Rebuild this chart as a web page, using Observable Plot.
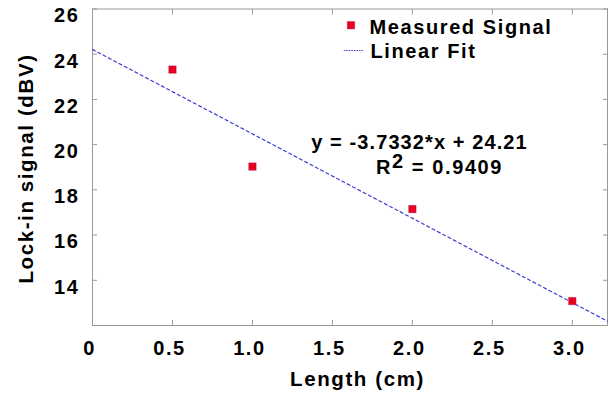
<!DOCTYPE html>
<html>
<head>
<meta charset="utf-8">
<script src="https://cdn.jsdelivr.net/npm/d3@7"></script>
<script src="https://cdn.jsdelivr.net/npm/@observablehq/plot@0.6"></script>
<style>
  html, body { margin: 0; padding: 0; background: #fff; }
  #chart svg text { letter-spacing: 1.6px; }
</style>
</head>
<body>
<div id="chart"></div>
<script>
// Data
const lengthCm = [0.5, 1.0, 2.0, 3.0];
const signalDbv = [23.32, 19.03, 17.15, 13.08];
// Linear fit endpoints (y = -3.7332*x + 24.21) across the axis range
const fitX = [0, 3.22];
const fitY = [24.21, 12.19];
const xTicks = [0, 0.5, 1.0, 1.5, 2.0, 2.5, 3.0];
const yTicks = [14, 16, 18, 20, 22, 24, 26];
const seriesNames = ["Measured Signal", "Linear Fit"];
const fitEquation = "y = -3.7332*x + 24.21";
const fitR2 = "0.9409";

const points = lengthCm.map((x, i) => ({x, y: signalDbv[i]}));
const fit = fitX.map((x, i) => ({x, y: fitY[i]}));

const RED = "#e8001e";
const BLUE = "#3a3ad8";
const FRAME = "#999";
const font = {fontSize: 20, fontWeight: "bold"};
const titleFont = {fontSize: 20.5, fontWeight: "bold"};

const lineSymbol = {
  draw(ctx) { ctx.moveTo(-10, 0); ctx.lineTo(10, 0); }
};

const chart = Plot.plot({
  width: 608,
  height: 393,
  marginLeft: 92,
  marginRight: 1,
  marginTop: 8.5,
  marginBottom: 68,
  style: {fontFamily: "'Liberation Sans', Arial, Helvetica, sans-serif", color: "#000", background: "#fff"},
  x: {domain: [0, 3.22]},
  y: {domain: [12, 26]},
  marks: [
    Plot.frame({stroke: FRAME}),
    // inward ticks on all four sides
    Plot.axisX(xTicks, {anchor: "bottom", tickSize: -5, stroke: FRAME, fill: "none", label: null}),
    Plot.axisX(xTicks, {anchor: "top", tickSize: -5, stroke: FRAME, fill: "none", label: null}),
    Plot.axisY(yTicks, {anchor: "left", tickSize: -5, stroke: FRAME, fill: "none", label: null}),
    Plot.axisY(yTicks, {anchor: "right", tickSize: -5, stroke: FRAME, fill: "none", label: null}),
    // tick labels
    Plot.axisX(xTicks, {anchor: "bottom", tickSize: 0, tickPadding: 15, stroke: "none", fill: "#000", label: null, dx: -3,
      tickFormat: d => d === 0 ? "0" : d.toFixed(1), ...font}),
    Plot.axisY(yTicks, {anchor: "left", tickSize: 0, tickPadding: 13, stroke: "none", fill: "#000", label: null, dy: 7,
      tickFormat: d => String(d), ...font}),
    // fit line
    Plot.line(fit, {x: "x", y: "y", stroke: BLUE, strokeWidth: 1.2, strokeDasharray: "3,3"}),
    // measured points
    Plot.dot(points, {x: "x", y: "y", symbol: "square", r: 4.2, fill: RED, stroke: "#a02060", strokeWidth: 0.4}),
    // legend
    Plot.dot([0], {frameAnchor: "top-left", dx: 258.5, dy: 16.2, symbol: "square", r: 4.2, fill: RED, stroke: "#a02060", strokeWidth: 0.4}),
    Plot.dot([0], {frameAnchor: "top-left", dx: 261.3, dy: 41.5, symbol: lineSymbol, fill: "none", stroke: BLUE, strokeWidth: 1, strokeDasharray: "1.5,1"}),
    Plot.text([seriesNames[0]], {frameAnchor: "top-left", dx: 277, dy: 24.8, text: d => d, textAnchor: "start", lineAnchor: "bottom", ...font}),
    Plot.text([seriesNames[1]], {frameAnchor: "top-left", dx: 278, dy: 48.8, text: d => d, textAnchor: "start", lineAnchor: "bottom", ...font}),
    // annotation
    Plot.text([fitEquation], {frameAnchor: "top-left", dx: 327, dy: 139.5, text: d => d, textAnchor: "middle", lineAnchor: "bottom", letterSpacing: 1.1, ...font}),
    Plot.text(["R2 = " + fitR2], {frameAnchor: "top-left", dx: 347, dy: 164.5, text: d => d, textAnchor: "middle", lineAnchor: "bottom", ...font}),
    // axis titles
    Plot.text(["Length (cm)"], {frameAnchor: "bottom", dx: 7.5, dy: 60, text: d => d, textAnchor: "middle", lineAnchor: "bottom", ...titleFont}),
    Plot.text(["Lock-in signal (dBV)"], {frameAnchor: "left", dx: -60, dy: 1.25, rotate: -90, text: d => d, textAnchor: "middle", lineAnchor: "bottom", ...titleFont})
  ]
});

// superscript for R²
d3.select(chart).selectAll("text").each(function() {
  if (this.textContent === "R2 = " + fitR2) {
    const t = d3.select(this);
    t.text(null);
    t.append("tspan").text("R");
    t.append("tspan").attr("dy", -6).text("2");
    t.append("tspan").attr("dy", 6).text(" = " + fitR2);
  }
  if (this.textContent === fitEquation) {
    this.style.letterSpacing = "1.1px";
  }
});

document.getElementById("chart").appendChild(chart);
</script>
</body>
</html>
